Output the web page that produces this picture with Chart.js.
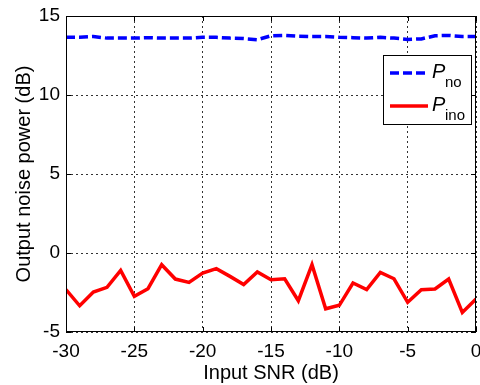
<!DOCTYPE html>
<html>
<head>
<meta charset="utf-8">
<script src="https://cdn.jsdelivr.net/npm/chart.js@4/dist/chart.umd.min.js"></script>
<style>
  body { margin: 0; background: #fff; }
  #wrap { width: 480px; height: 385px; }
</style>
</head>
<body>
<div id="wrap"><canvas id="myChart" width="480" height="385"></canvas></div>
<script>
const snr = [-30, -29, -28, -27, -26, -25, -24, -23, -22, -21, -20, -19, -18, -17, -16, -15,
  -14, -13, -12, -11, -10, -9, -8, -7, -6, -5, -4, -3, -2, -1, 0];
const pno = [13.65, 13.65, 13.7, 13.6, 13.6, 13.6, 13.63, 13.6, 13.6, 13.6, 13.65, 13.65, 13.6,
  13.57, 13.5, 13.75, 13.77, 13.72, 13.7, 13.7, 13.65, 13.63, 13.6, 13.65, 13.6, 13.52, 13.55,
  13.75, 13.77, 13.7, 13.7];
const pino = [-2.32, -3.34, -2.47, -2.17, -1.1, -2.74, -2.26, -0.74, -1.65, -1.86, -1.27, -0.99,
  -1.48, -2.0, -1.2, -1.69, -1.63, -3.02, -0.74, -3.53, -3.31, -1.9, -2.32, -1.23, -1.63, -3.12,
  -2.32, -2.28, -1.65, -3.76, -2.91];
const legendMain = ["P", "P"];
const legendSub = ["no", "ino"];
const xTicks = [-30, -25, -20, -15, -10, -5, 0];
const yTicks = [-5, 0, 5, 10, 15];

const FONT = "'Liberation Sans', Arial, sans-serif";

// box frame, inward ticks + legend in the upper right, MATLAB style
const frameLegend = {
  id: "frameLegend",
  afterDraw(chart) {
    const ctx = chart.ctx;
    const a = chart.chartArea;
    const xs = chart.scales.x, ys = chart.scales.y;
    ctx.save();
    ctx.strokeStyle = "#000";
    ctx.lineWidth = 1;
    ctx.setLineDash([]);
    ctx.strokeRect(a.left + 0.5, a.top + 0.5, a.right - a.left - 1, a.bottom - a.top - 1);

    ctx.beginPath();
    xTicks.forEach((v) => {
      const px = Math.round(xs.getPixelForValue(v)) + 0.5;
      ctx.moveTo(px, a.bottom); ctx.lineTo(px, a.bottom - 5);
      ctx.moveTo(px, a.top); ctx.lineTo(px, a.top + 5);
    });
    yTicks.forEach((v) => {
      const py = Math.round(ys.getPixelForValue(v)) + 0.5;
      ctx.moveTo(a.left, py); ctx.lineTo(a.left + 5, py);
      ctx.moveTo(a.right, py); ctx.lineTo(a.right - 5, py);
    });
    ctx.stroke();

    const bx = 383, by = 55, bw = 88, bh = 69;
    ctx.fillStyle = "#fff";
    ctx.fillRect(bx, by, bw, bh);
    ctx.strokeRect(bx + 0.5, by + 0.5, bw, bh);

    const ds = chart.data.datasets;
    const rows = [73, 106];
    ds.forEach((d, i) => {
      const y = rows[i];
      ctx.strokeStyle = d.borderColor;
      ctx.lineWidth = 3.5;
      ctx.setLineDash(d.borderDash || []);
      ctx.beginPath();
      ctx.moveTo(390, y);
      ctx.lineTo(428, y);
      ctx.stroke();
      ctx.setLineDash([]);
      ctx.fillStyle = "#000";
      ctx.textBaseline = "alphabetic";
      ctx.font = "italic 20px " + FONT;
      ctx.fillText(legendMain[i], 432, y + 5);
      ctx.font = "15px " + FONT;
      ctx.fillText(legendSub[i], 445, y + 14);
    });
    ctx.restore();
  },
};

new Chart(document.getElementById("myChart"), {
  type: "line",
  data: {
    datasets: [
      {
        label: "Pno",
        data: snr.map((s, i) => ({ x: s, y: pno[i] })),
        borderColor: "#0000ff",
        borderWidth: 3.5,
        borderDash: [9, 4],
        pointRadius: 0,
        fill: false,
        tension: 0,
      },
      {
        label: "Pino",
        data: snr.map((s, i) => ({ x: s, y: pino[i] })),
        borderColor: "#ff0000",
        borderWidth: 3.5,
        pointRadius: 0,
        fill: false,
        tension: 0,
      },
    ],
  },
  options: {
    responsive: false,
    animation: false,
    layout: { autoPadding: false, padding: { top: 16, right: 4, left: 0, bottom: 0 } },
    plugins: { legend: { display: false }, tooltip: { enabled: false } },
    scales: {
      x: {
        type: "linear",
        min: -30,
        max: 0,
        afterBuildTicks: (s) => { s.ticks = xTicks.map((v) => ({ value: v })); },
        afterFit: (s) => { s.height = 53; s.paddingLeft = 0; s.paddingRight = 0; },
        grid: { color: "#333", lineWidth: 1, drawTicks: false },
        border: { display: false, dash: [2, 3] },
        ticks: { color: "#000", padding: 8, maxRotation: 0, font: { family: FONT, size: 19 } },
        title: {
          display: true,
          text: "Input SNR (dB)",
          color: "#000",
          font: { family: FONT, size: 20 },
          padding: { top: 0, bottom: 0 },
        },
      },
      y: {
        min: -5,
        max: 15,
        afterBuildTicks: (s) => { s.ticks = yTicks.map((v) => ({ value: v })); },
        afterFit: (s) => { s.width = 66; s.paddingTop = 0; s.paddingBottom = 0; },
        grid: { color: "#333", lineWidth: 1, drawTicks: false },
        border: { display: false, dash: [2, 3] },
        ticks: { color: "#000", padding: 6, font: { family: FONT, size: 19 } },
        title: {
          display: true,
          text: "Output noise power (dB)",
          color: "#000",
          font: { family: FONT, size: 20 },
          padding: { top: 12, bottom: 0 },
        },
      },
    },
  },
  plugins: [frameLegend],
});
</script>
</body>
</html>
